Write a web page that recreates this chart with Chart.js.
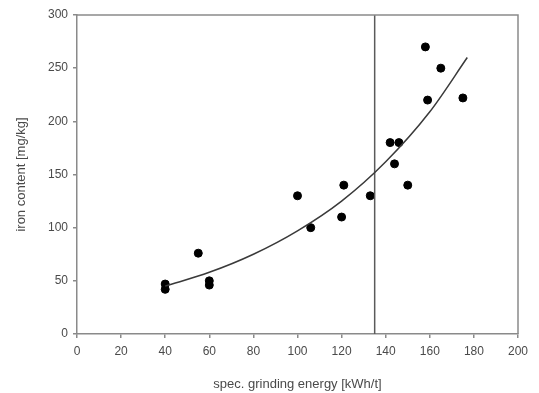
<!DOCTYPE html>
<html>
<head>
<meta charset="utf-8">
<script src="https://cdn.jsdelivr.net/npm/chart.js@4/dist/chart.umd.min.js"></script>
<style>
  html, body { margin: 0; padding: 0; background: #fff; }
  #wrap { width: 539px; height: 393px; }
</style>
</head>
<body>
<div id="wrap"><canvas id="ironChart" width="539" height="393"></canvas></div>
<script>
// measured points (x: spec. grinding energy, y: iron content)
const energy = [40, 40, 55, 60, 60, 100, 106, 120, 121, 133, 142, 144, 146, 150, 158, 159, 165, 175];
const iron   = [47, 42, 76, 50, 46, 130, 100, 110, 140, 130, 180, 160, 180, 140, 270, 220, 250, 222];

// fitted curve
const fitX = [40, 60, 80, 100, 120, 140, 160, 177];
const fitY = [45, 58, 75, 97, 125, 162, 209, 260];

// vertical marker
const markerX = 135;

const xTicks = [0, 20, 40, 60, 80, 100, 120, 140, 160, 180, 200];
const yTicks = [0, 50, 100, 150, 200, 250, 300];

(()=>{
    const ctx = document.querySelector('#ironChart');
    const grey = '#8a8a8a';
    const txt = '#4a4a4a';
    const font = { family: '"Liberation Sans", Arial, sans-serif', size: 12 };

    const frame = {
        id: 'frame',
        afterDraw(chart) {
            const { ctx, chartArea: a } = chart;
            ctx.save();
            ctx.strokeStyle = grey;
            ctx.lineWidth = 1.5;
            ctx.beginPath();
            ctx.moveTo(a.left, a.top);
            ctx.lineTo(a.right, a.top);
            ctx.lineTo(a.right, a.bottom);
            ctx.stroke();
            ctx.restore();
        }
    };

    new Chart(ctx, {
        type: 'scatter',
        data: {
            datasets: [
                {
                    label: 'fit',
                    type: 'line',
                    data: fitX.map((x, i) => ({ x: x, y: fitY[i] })),
                    borderColor: '#3a3a3a',
                    borderWidth: 1.5,
                    pointRadius: 0,
                    cubicInterpolationMode: 'monotone',
                    fill: false
                },
                {
                    label: 'marker',
                    type: 'line',
                    data: [{ x: markerX, y: 0 }, { x: markerX, y: 300 }],
                    borderColor: '#5a5a5a',
                    borderWidth: 1.5,
                    pointRadius: 0,
                    fill: false
                },
                {
                    label: 'iron',
                    data: energy.map((x, i) => ({ x: x, y: iron[i] })),
                    backgroundColor: '#000',
                    borderColor: '#000',
                    borderWidth: 1,
                    pointRadius: 4,
                    pointHoverRadius: 4
                }
            ]
        },
        options: {
            responsive: false,
            animation: false,
            layout: { padding: { top: 15, right: 21, left: 0, bottom: 0 } },
            plugins: {
                legend: { display: false },
                tooltip: { enabled: false }
            },
            scales: {
                x: {
                    type: 'linear',
                    min: 0,
                    max: 200,
                    afterFit: s => { s.height = 59; },
                    afterBuildTicks: s => { s.ticks = xTicks.map(v => ({ value: v })); },
                    border: { display: true, color: grey, width: 1.5 },
                    grid: { drawOnChartArea: false, drawTicks: true, tickLength: 4, color: grey, lineWidth: 1.5 },
                    ticks: { color: txt, font: font, padding: 6, maxRotation: 0 },
                    title: {
                        display: true,
                        text: 'spec. grinding energy [kWh/t]',
                        color: txt,
                        font: { family: font.family, size: 13 },
                        padding: { top: 0, bottom: 1 }
                    }
                },
                y: {
                    type: 'linear',
                    min: 0,
                    max: 300,
                    afterFit: s => { s.width = 77; },
                    afterBuildTicks: s => { s.ticks = yTicks.map(v => ({ value: v })); },
                    border: { display: true, color: grey, width: 1.5 },
                    grid: { drawOnChartArea: false, drawTicks: true, tickLength: 4, color: grey, lineWidth: 1.5 },
                    ticks: { color: txt, font: font, padding: 5 },
                    title: {
                        display: true,
                        text: 'iron content [mg/kg]',
                        color: txt,
                        font: { family: font.family, size: 13 },
                        padding: { top: 14, bottom: 0 }
                    }
                }
            }
        },
        plugins: [frame]
    });
})();
</script>
</body>
</html>
